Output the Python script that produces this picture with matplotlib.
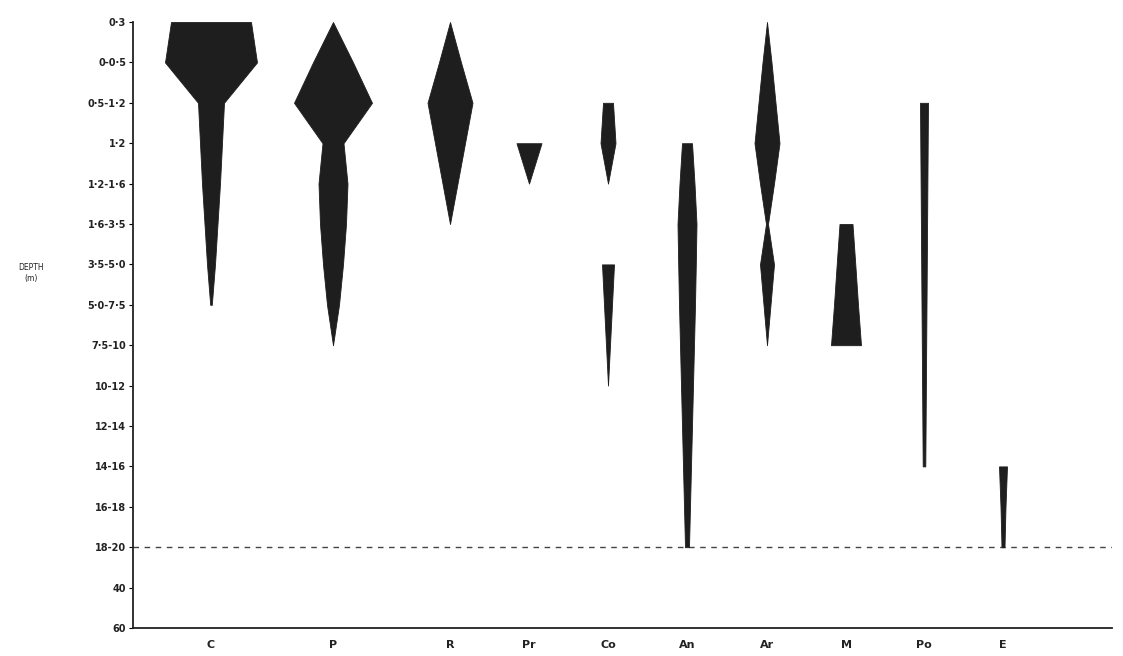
import numpy as np
import matplotlib
matplotlib.use('Agg')
import matplotlib.pyplot as plt

nan = np.nan

# depth classes (m), top of the chart first
depth_labels = ['0·3', '0-0·5', '0·5-1·2', '1·2', '1·2-1·6', '1·6-3·5', '3·5-5·0', '5·0-7·5',
                '7·5-10', '10-12', '12-14', '14-16', '16-18', '18-20', '40', '60']
species = ['C', 'P', 'R', 'Pr', 'Co', 'An', 'Ar', 'M', 'Po', 'E']

# kite half-widths per depth class (nan = not recorded)
C = [40, 46, 13, 11, 9, 6.5, 4, 0.8, nan, nan, nan, nan, nan, nan, nan, nan]
P = [0, 20, 39, 10.5, 14.5, 13, 10, 6, 0, nan, nan, nan, nan, nan, nan, nan]
R = [0, 11, 22.5, 15, 7.5, 0, nan, nan, nan, nan, nan, nan, nan, nan, nan, nan]
Pr = [nan, nan, nan, 12.5, 0, nan, nan, nan, nan, nan, nan, nan, nan, nan, nan, nan]
Co = [nan, nan, 5, 7.5, 0, nan, 6, 4, 2, 0, nan, nan, nan, nan, nan, nan]
An = [nan, nan, nan, 5, 7.5, 9.5, 8.8, 8, 7, 6, 5, 4, 3, 2, nan, nan]
Ar = [0, 4.5, 8.5, 12.5, 7, 1, 7, 3.5, 0, nan, nan, nan, nan, nan, nan, nan]
M = [nan, nan, nan, nan, nan, 6.5, 9.3, 12, 15, nan, nan, nan, nan, nan, nan, nan]
Po = [nan, nan, 4, 3.7, 3.4, 3.1, 2.8, 2.5, 2.2, 1.9, 1.6, 1.3, nan, nan, nan, nan]
E = [nan, nan, nan, nan, nan, nan, nan, nan, nan, nan, nan, 4, 2.5, 1.5, nan, nan]

kites = [C, P, R, Pr, Co, An, Ar, M, Po, E]
x_centres = [78, 200, 317, 396, 475, 554, 634, 713, 791, 870]  # layout along the x axis
limit_level = 13  # 18-20 m, dashed line


def draw_kite(ax, xc, widths):
    w = np.array(widths, dtype=float)
    levels = np.arange(len(w))
    ok = ~np.isnan(w)
    # split into runs of recorded depths
    start = None
    for i in range(len(w) + 1):
        if i < len(w) and ok[i]:
            if start is None:
                start = i
        elif start is not None:
            seg = slice(start, i)
            ax.fill_betweenx(levels[seg], xc - w[seg], xc + w[seg],
                             color='#1e1e1e', lw=0.6, edgecolor='#1e1e1e')
            start = None


def main():
    fig = plt.figure(figsize=(11.23, 6.56), dpi=100)
    ax = fig.add_axes([133 / 1123, 28 / 656, 979 / 1123, 606 / 656])

    for xc, widths in zip(x_centres, kites):
        draw_kite(ax, xc, widths)

    ax.axhline(limit_level, color='#444444', lw=1.0, ls=(0, (4, 4)), zorder=0)

    ax.set_xlim(0, 979)
    ax.set_ylim(len(depth_labels) - 1, 0)
    ax.set_yticks(range(len(depth_labels)))
    ax.set_yticklabels(depth_labels, fontsize=7, fontweight='bold', color='#222222')
    ax.set_xticks(x_centres)
    ax.set_xticklabels(species, fontsize=8, fontweight='bold', color='#222222')
    ax.tick_params(axis='y', length=3, width=0.8, pad=2)
    ax.tick_params(axis='x', length=0, pad=9)

    for side in ['top', 'right']:
        ax.spines[side].set_visible(False)
    for side in ['left', 'bottom']:
        ax.spines[side].set_linewidth(1.3)
        ax.spines[side].set_color('#222222')

    fig.text(31 / 1123, 1 - 273 / 656, 'DEPTH\n(m)', fontsize=5.5, ha='center', va='center',
             color='#222222', linespacing=1.2)

    fig.savefig('out.png', dpi=100, facecolor='white')


if __name__ == '__main__':
    main()
